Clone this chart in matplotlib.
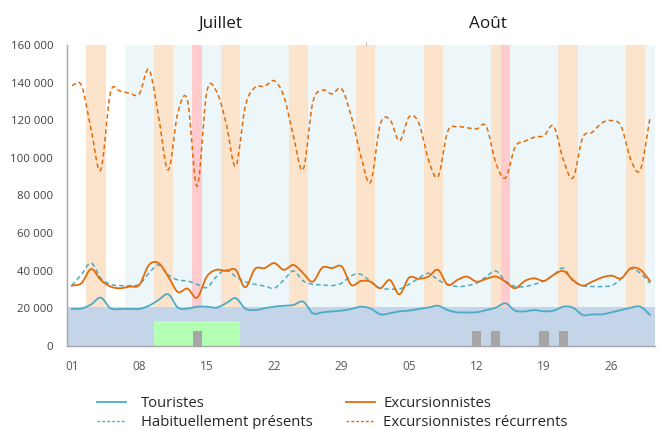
import numpy as np
import matplotlib
matplotlib.use("Agg")
import matplotlib.pyplot as plt
from matplotlib.lines import Line2D
from matplotlib.ticker import FuncFormatter

plt.rcParams['font.family'] = ['Open Sans', 'DejaVu Sans']

# ---- data (day index 1 = 1 July, 32 = 1 August) ----
days = list(range(1, 62))

touristes = [19.6, 19.8, 22.0, 25.6, 20.0, 19.6, 19.6, 19.6, 21.3, 24.4,
             27.4, 20.3, 19.8, 20.8, 20.8, 20.3, 22.6, 25.3, 19.8, 19.0,
             20.0, 20.8, 21.3, 21.7, 23.5, 17.3, 17.8, 18.3, 18.7, 19.6,
             20.8, 19.8, 16.7, 17.3, 18.3, 18.7, 19.6, 20.3, 21.3, 19.0,
             17.8, 17.8, 17.8, 19.0, 20.3, 22.6, 18.7, 18.3, 19.0, 18.3,
             18.7, 20.8, 20.3, 16.4, 16.7, 16.7, 17.8, 19.0, 20.3, 20.8,
             16.4]

habituels = [32.0, 38.0, 44.0, 36.0, 32.7, 32.0, 32.0, 32.7, 38.6, 43.0,
             37.7, 35.0, 34.5, 32.7, 31.0, 36.8, 40.4, 36.8, 34.1, 32.7,
             31.8, 30.6, 35.0, 39.8, 34.5, 32.7, 32.4, 32.0, 33.3, 37.3,
             38.0, 34.1, 30.6, 30.2, 30.2, 32.7, 36.0, 38.6, 35.0, 32.7,
             31.5, 32.0, 33.3, 36.8, 39.8, 34.5, 31.5, 31.5, 32.7, 34.5,
             37.7, 41.3, 34.5, 32.0, 31.5, 31.5, 32.0, 35.6, 40.9, 38.6,
             33.3]

excursionnistes = [32.0, 33.3, 40.8, 35.0, 31.5, 30.6, 31.5, 32.4, 43.0, 44.0,
                   36.8, 28.6, 30.4, 25.6, 36.8, 40.4, 39.8, 40.4, 31.1, 40.9,
                   41.3, 44.0, 40.4, 43.0, 38.6, 34.1, 41.6, 41.3, 42.2, 32.4,
                   34.5, 34.1, 30.6, 35.0, 27.4, 36.3, 35.6, 36.8, 40.4, 32.4,
                   35.0, 36.8, 34.1, 35.6, 36.8, 34.1, 30.6, 34.5, 35.9, 34.5,
                   37.7, 39.8, 35.0, 32.0, 34.1, 36.3, 37.3, 35.9, 41.3, 40.4,
                   34.5]

recurrents = [138.5, 138.5, 115.0, 93.5, 134.5, 135.5, 134.3, 134.0, 147.0, 122.0,
              93.5, 124.0, 130.5, 84.8, 135.0, 135.5, 118.7, 95.5, 127.5, 137.5,
              138.0, 141.0, 132.8, 111.5, 93.7, 129.3, 136.0, 134.0, 136.7, 122.0,
              100.8, 87.0, 117.7, 120.4, 109.0, 121.8, 118.6, 99.0, 90.0, 114.0,
              116.5, 116.0, 115.4, 116.8, 97.3, 89.3, 105.8, 108.8, 111.0, 111.8,
              116.8, 99.0, 89.3, 110.6, 113.6, 118.6, 119.8, 116.8, 99.0, 93.7,
              121.3]

capacite = 20.5            # thousands, blue area
periode_debut = 7          # first day of the light-blue period
weekend_days = [3, 4, 10, 11, 17, 18, 24, 25, 31, 32, 38, 39, 45, 52, 53, 59, 60]
holiday_days = [14, 46]
green_days = list(range(10, 19))
green_value = 13.0
gray_days = [14, 43, 45, 50, 52]
gray_value = 8.0

tick_days = [1, 8, 15, 22, 29, 36, 43, 50, 57]
tick_labels = ["01", "08", "15", "22", "29", "05", "12", "19", "26"]
months = ["Juillet", "Août"]
month_pos = [16.4, 44.2]
month_break = 31.5


def smooth(x, y, n=12):
    x = np.asarray(x, float)
    y = np.asarray(y, float)
    xp = np.concatenate([[2 * x[0] - x[1]], x, [2 * x[-1] - x[-2]]])
    yp = np.concatenate([[2 * y[0] - y[1]], y, [2 * y[-1] - y[-2]]])
    xs, ys = [], []
    for i in range(1, len(xp) - 2):
        t = np.linspace(0, 1, n, endpoint=False)
        for arr, out in ((xp, xs), (yp, ys)):
            p0, p1, p2, p3 = arr[i - 1], arr[i], arr[i + 1], arr[i + 2]
            m1 = (p2 - p0) / 2
            m2 = (p3 - p1) / 2
            h00 = 2 * t**3 - 3 * t**2 + 1
            h10 = t**3 - 2 * t**2 + t
            h01 = -2 * t**3 + 3 * t**2
            h11 = t**3 - t**2
            out.extend(h00 * p1 + h10 * m1 + h01 * p2 + h11 * m2)
    xs.append(x[-1])
    ys.append(y[-1])
    return np.array(xs), np.array(ys)


fig = plt.figure(figsize=(6.59, 4.29), dpi=100)
ax = fig.add_axes([0.1017, 0.194, 0.892, 0.701])

x0, x1 = days[0] - 0.5, days[-1] + 0.5
ax.set_xlim(x0, x1)
ax.set_ylim(0, 160000)

# backgrounds
ax.axvspan(periode_debut - 0.5, x1, color="#edf6f9", lw=0, zorder=0)
for d in weekend_days:
    ax.axvspan(d - 0.5, d + 0.5, color="#fce3cc", lw=0, zorder=1)
for d in holiday_days:
    ax.axvspan(d - 0.5, d + 0.5, color="#ffcbcd", lw=0, zorder=1.1)

ax.fill_between([x0, x1], 0, capacite * 1000, color="#c4d4e9", lw=0, zorder=2)
g0, g1 = min(green_days) - 0.5, max(green_days) + 0.5
ax.bar((g0 + g1) / 2, green_value * 1000, width=g1 - g0, color="#b3ffb3", lw=0, zorder=3)
ax.bar(gray_days, [gray_value * 1000] * len(gray_days), width=0.95,
       color="#a6a6a6", lw=0, zorder=4)

orange = "#e36c0a"
teal = "#4bacc6"
sx, sy = smooth(days, np.array(touristes) * 1000)
ax.plot(sx, sy, color=teal, lw=1.3, zorder=6)
sx, sy = smooth(days, np.array(habituels) * 1000)
ax.plot(sx, sy, color=teal, lw=1.1, ls=(0, (3, 2)), zorder=6)
sx, sy = smooth(days, np.array(excursionnistes) * 1000)
ax.plot(sx, sy, color=orange, lw=1.3, zorder=7)
sx, sy = smooth(days, np.array(recurrents) * 1000)
ax.plot(sx, sy, color=orange, lw=1.1, ls=(0, (3, 2)), zorder=7)

# small separator mark above the plot between the months
ax.plot([month_break, month_break], [160000, 161500], color="#bfbfbf", lw=0.8,
        clip_on=False, zorder=8)

# axes styling
for s in ["top", "right"]:
    ax.spines[s].set_visible(False)
for s in ["left", "bottom"]:
    ax.spines[s].set_color("#a6a6a6")
    ax.spines[s].set_linewidth(1.0)
    ax.spines[s].set_zorder(8)
ax.set_yticks(np.arange(0, 160001, 20000))
ax.yaxis.set_major_formatter(FuncFormatter(lambda v, p: f"{v:,.0f}".replace(",", " ")))
ax.set_xticks(tick_days)
ax.set_xticklabels(tick_labels)
ax.tick_params(axis="y", length=0, pad=10, labelsize=8.2, labelcolor="#404040")
ax.tick_params(axis="x", length=0, pad=10, labelsize=8.5, labelcolor="#595959")

for m, p in zip(months, month_pos):
    ax.text(p, 1.07, m, transform=ax.get_xaxis_transform(), ha="center",
            va="center", fontsize=12.3, color="#1a1a1a")

labels = ["Touristes", "Habituellement présents", "Excursionnistes", "Excursionnistes récurrents"]
col1 = [Line2D([], [], color=teal, lw=1.3),
        Line2D([], [], color=teal, lw=1.0, ls=(0, (2, 1.5)))]
col2 = [Line2D([], [], color=orange, lw=1.3),
        Line2D([], [], color=orange, lw=1.0, ls=(0, (2, 1.5)))]
common = dict(loc="center left", frameon=False, fontsize=10.7, handlelength=1.95,
              borderpad=0, borderaxespad=0, labelspacing=0.28, labelcolor="#262626")
leg1 = fig.legend(col1, labels[:2], bbox_to_anchor=(97 / 659, 0.037),
                  handletextpad=1.0, **common)
leg2 = fig.legend(col2, labels[2:], bbox_to_anchor=(346 / 659, 0.037),
                  handletextpad=0.55, **common)

fig.savefig("out.png", dpi=100)
